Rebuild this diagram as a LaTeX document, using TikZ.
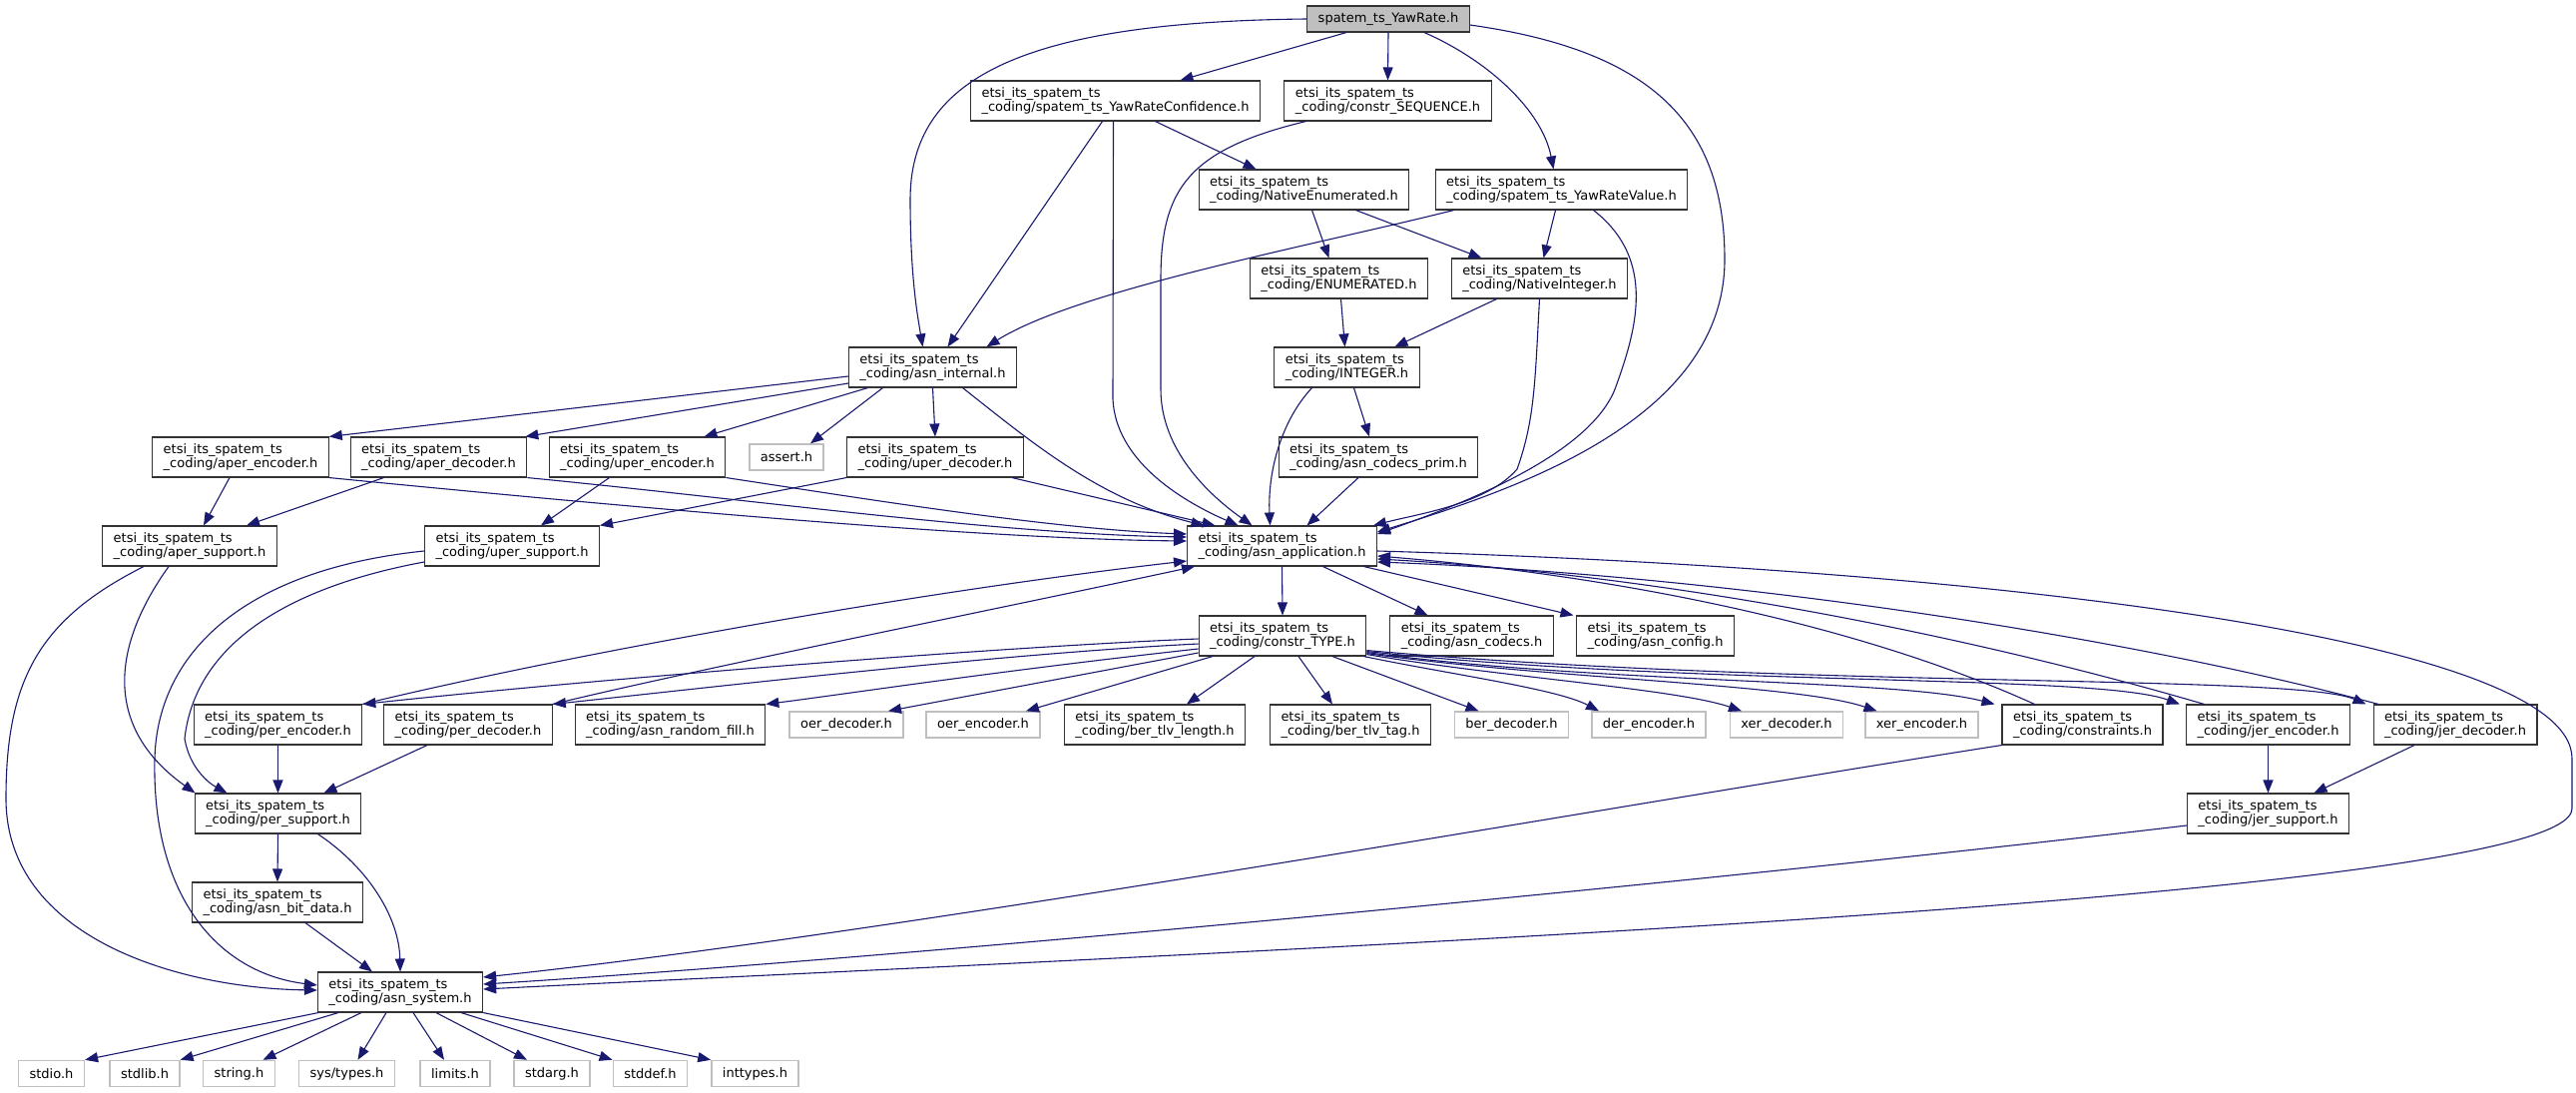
\documentclass[tikz,border=0pt]{standalone}
\usepackage{fontspec}
\newfontfamily\dotfont{DejaVu Sans}
\usetikzlibrary{arrows.meta}
\definecolor{edgeblue}{RGB}{25,25,112}
\definecolor{boxgray}{RGB}{191,191,191}
\newcommand{\etsipath}{etsi\_its\_spatem\_ts\\\_coding/}

\begin{document}
\begin{tikzpicture}[
    x=1pt, y=-1pt,
    file/.style={draw=black!80, fill=white, line width=1.1pt,
        font=\dotfont\fontsize{13pt}{14.5pt}\selectfont,
        align=left, inner xsep=11pt, inner ysep=0pt, minimum height=40pt},
    main/.style={file, fill=boxgray, minimum height=26pt},
    sysfile/.style={draw=boxgray, line width=1.4pt,
        font=\dotfont\fontsize{13pt}{14.5pt}\selectfont,
        inner xsep=11pt, inner ysep=0pt, minimum height=26pt},
    dep/.style={draw=edgeblue, line width=1.1pt, -{Triangle[length=13pt, width=10pt]}},
]
    \path[use as bounding box, fill=white] (0, 0) rectangle (2581, 1095);

    \node[main] (yawrate) at (1391, 19) {spatem\_ts\_YawRate.h};
    \node[file] (yawconf) at (1117.5, 101) {\etsipath spatem\_ts\_YawRateConfidence.h};
    \node[file] (seqh) at (1390.5, 101) {\etsipath constr\_SEQUENCE.h};
    \node[file] (nenum) at (1306.5, 190) {\etsipath NativeEnumerated.h};
    \node[file] (yawval) at (1564.5, 190) {\etsipath spatem\_ts\_YawRateValue.h};
    \node[file] (enumh) at (1341.5, 279) {\etsipath ENUMERATED.h};
    \node[file] (nint) at (1542.5, 279) {\etsipath NativeInteger.h};
    \node[file] (internal) at (934.5, 368) {\etsipath asn\_internal.h};
    \node[file] (integer) at (1349.5, 368) {\etsipath INTEGER.h};
    \node[file] (aperenc) at (241, 458) {\etsipath aper\_encoder.h};
    \node[file] (aperdec) at (439.5, 458) {\etsipath aper\_decoder.h};
    \node[file] (uperenc) at (638.5, 458) {\etsipath uper\_encoder.h};
    \node[sysfile] (asserth) at (788, 458) {assert.h};
    \node[file] (uperdec) at (937, 458) {\etsipath uper\_decoder.h};
    \node[file] (prim) at (1381, 458) {\etsipath asn\_codecs\_prim.h};
    \node[file] (apersup) at (190, 547) {\etsipath aper\_support.h};
    \node[file] (upersup) at (513, 547) {\etsipath uper\_support.h};
    \node[file] (app) at (1284.5, 547) {\etsipath asn\_application.h};
    \node[file] (ctype) at (1285, 637) {\etsipath constr\_TYPE.h};
    \node[file] (codecs) at (1474.5, 637) {\etsipath asn\_codecs.h};
    \node[file] (config) at (1658.5, 637) {\etsipath asn\_config.h};
    \node[file] (perenc) at (278.5, 726) {\etsipath per\_encoder.h};
    \node[file] (perdec) at (469, 726) {\etsipath per\_decoder.h};
    \node[file] (rfill) at (671.5, 726) {\etsipath asn\_random\_fill.h};
    \node[sysfile] (oerdec) at (848, 726) {oer\_decoder.h};
    \node[sysfile] (oerenc) at (985, 726) {oer\_encoder.h};
    \node[file] (tlvlen) at (1157, 726) {\etsipath ber\_tlv\_length.h};
    \node[file] (tlvtag) at (1353, 726) {\etsipath ber\_tlv\_tag.h};
    \node[sysfile] (berdec) at (1514.5, 726) {ber\_decoder.h};
    \node[sysfile] (derenc) at (1652, 726) {der\_encoder.h};
    \node[sysfile] (xerdec) at (1790, 726) {xer\_decoder.h};
    \node[sysfile] (xerenc) at (1925.5, 726) {xer\_encoder.h};
    \node[file] (constr) at (2086.5, 726) {\etsipath constraints.h};
    \node[file] (jerenc) at (2272.5, 726) {\etsipath jer\_encoder.h};
    \node[file] (jerdec) at (2460, 726) {\etsipath jer\_decoder.h};
    \node[file] (persup) at (278.5, 815) {\etsipath per\_support.h};
    \node[file] (jersup) at (2272.5, 815) {\etsipath jer\_support.h};
    \node[file] (bitdata) at (278, 904) {\etsipath asn\_bit\_data.h};
    \node[file] (system) at (401, 994) {\etsipath asn\_system.h};
    \node[sysfile] (stdio) at (51.5, 1075.5) {stdio.h};
    \node[sysfile] (stdlib) at (145, 1075.5) {stdlib.h};
    \node[sysfile] (stringh) at (239.5, 1075.5) {string.h};
    \node[sysfile] (systypes) at (347.5, 1075.5) {sys/types.h};
    \node[sysfile] (limitsh) at (456, 1075.5) {limits.h};
    \node[sysfile] (stdarg) at (553, 1075.5) {stdarg.h};
    \node[sysfile] (stddef) at (651.5, 1075.5) {stddef.h};
    \node[sysfile] (inttypes) at (756.5, 1075.5) {inttypes.h};

    \path[dep]
        (yawrate.west) .. controls (1020, 22) and (912, 80) .. (912, 200)
        .. controls (912, 280) and (920, 320) .. ([xshift=-10pt]internal.north)
    ;
    \draw[dep] ([xshift=-42pt]yawrate.south) -- ([xshift=65pt]yawconf.north);
    \draw[dep] (yawrate.south) -- (seqh.north);
    \draw[dep] ([xshift=36pt]yawrate.south) .. controls (1490, 60) and (1545, 110) .. ([xshift=-8pt]yawval.north);
    \path[dep]
        ([yshift=-6pt]yawrate.east) .. controls (1650, 50) and (1728, 120) .. (1728, 260)
        .. controls (1728, 420) and (1520, 490) .. ([yshift=14pt]app.east)
    ;

    \draw[dep] ([xshift=-13pt]yawconf.south) -- ([xshift=15pt]internal.north);
    \path[dep]
        ([xshift=-2pt]yawconf.south) -- (1115, 400)
        .. controls (1118, 460) and (1180, 500) .. ([xshift=-44pt]app.north)
    ;
    \draw[dep] ([xshift=40pt]yawconf.south) -- ([xshift=-48pt]nenum.north);
    \path[dep]
        ([xshift=-82pt]seqh.south) .. controls (1190, 150) and (1163, 190) .. (1163, 280)
        -- (1163, 390) .. controls (1163, 450) and (1210, 495) .. ([xshift=-30pt]app.north)
    ;

    \draw[dep] ([xshift=8pt]nenum.south) -- ([xshift=-10pt]enumh.north);
    \draw[dep] ([xshift=52pt]nenum.south) -- ([xshift=-58pt]nint.north);
    \draw[dep] ([xshift=-108pt]yawval.south) .. controls (1320, 245) and (1080, 290) .. ([xshift=54pt]internal.north);
    \draw[dep] ([xshift=-6pt]yawval.south) -- ([xshift=4pt]nint.north);
    \path[dep]
        ([xshift=32pt]yawval.south) .. controls (1660, 260) and (1640, 330) .. (1618, 390)
        .. controls (1590, 460) and (1450, 510) .. ([yshift=12pt]app.east)
    ;
    \draw[dep] ([xshift=2pt]enumh.south) -- ([xshift=-2pt]integer.north);
    \draw[dep] ([xshift=-43pt]nint.south) -- ([xshift=48pt]integer.north);
    \path[dep]
        (nint.south) .. controls (1538, 380) and (1538, 420) .. (1520, 470)
        .. controls (1490, 505) and (1420, 515) .. ([xshift=-4pt]app.north east)
    ;
    \draw[dep] ([xshift=-35pt]integer.south) .. controls (1285, 420) and (1270, 470) .. ([xshift=-12pt]app.north);
    \draw[dep] ([xshift=7pt]integer.south) -- ([xshift=-9pt]prim.north);
    \draw[dep] ([xshift=-20pt]prim.south) -- ([xshift=25pt]app.north);

    \draw[dep] ([yshift=-9pt]internal.west) -- (aperenc.north east);
    \draw[dep] ([yshift=-16pt]internal.west) -- ([xshift=-2pt]aperdec.north east);
    \draw[dep] ([xshift=-65pt]internal.south) -- ([xshift=67pt]uperenc.north);
    \draw[dep] ([xshift=-50pt]internal.south) -- ([xshift=24pt]asserth.north);
    \draw[dep] (internal.south) -- (uperdec.north);
    \draw[dep] ([xshift=30pt]internal.south) .. controls (1030, 440) and (1100, 500) .. ([xshift=-78pt]app.north);

    \draw[dep] ([xshift=-11pt]aperenc.south) -- ([xshift=14pt]apersup.north);
    \draw[dep] (aperenc.south east) .. controls (700, 515) and (1000, 540) .. ([yshift=5pt]app.west);
    \draw[dep] ([xshift=-55pt]aperdec.south) -- ([xshift=57pt]apersup.north);
    \draw[dep] (aperdec.south east) .. controls (750, 500) and (1000, 535) .. ([yshift=9pt]app.west);
    \draw[dep] ([xshift=-28pt]uperenc.south) -- ([xshift=29pt]upersup.north);
    \draw[dep] (uperenc.south east) .. controls (850, 497) and (1050, 530) .. ([yshift=12pt]app.west);
    \draw[dep] (uperdec.south west) -- (upersup.north east);
    \draw[dep] ([xshift=77pt]uperdec.south) -- ([xshift=-67pt]app.north);

    \draw[dep] ([xshift=-21pt]apersup.south) .. controls (110, 650) and (105, 730) .. ([xshift=-83pt]persup.north);
    \path[dep]
        ([xshift=-46pt]apersup.south) .. controls (40, 620) and (6, 680) .. (6, 800)
        .. controls (6, 940) and (180, 990) .. ([yshift=2pt]system.west)
    ;
    \path[dep]
        ([yshift=-5pt]upersup.west) .. controls (250, 570) and (158, 650) .. (155, 760)
        .. controls (152, 900) and (220, 975) .. ([yshift=7pt]system.west)
    ;
    \path[dep]
        ([yshift=-16pt]upersup.west) .. controls (280, 590) and (195, 650) .. (185, 740)
        .. controls (190, 770) and (210, 785) .. ([xshift=-51pt]persup.north)
    ;

    \draw[dep] (perenc.south) -- (persup.north);
    \draw[dep] ([xshift=-41pt]perdec.south) -- ([xshift=46pt]persup.north);
    \draw[dep] (perenc.north east) .. controls (550, 660) and (900, 595) .. ([yshift=-15pt]app.west);
    \draw[dep] (perdec.north east) .. controls (700, 670) and (1000, 610) .. ([xshift=8pt]app.south west);
    \draw[dep] (persup.south) -- (bitdata.north);
    \draw[dep] ([xshift=40pt]persup.south) .. controls (370, 870) and (400, 920) .. (system.north);
    \draw[dep] ([xshift=28pt]bitdata.south) -- ([xshift=-28pt]system.north);

    \draw[dep] ([xshift=-82pt]system.south) -- (stdio.north east);
    \draw[dep] ([xshift=-62pt]system.south) -- (stdlib.north east);
    \draw[dep] ([xshift=-39pt]system.south) -- ([xshift=24pt]stringh.north);
    \draw[dep] ([xshift=-14pt]system.south) -- ([xshift=11pt]systypes.north);
    \draw[dep] ([xshift=13pt]system.south) -- ([xshift=-11pt]limitsh.north);
    \draw[dep] ([xshift=36pt]system.south) -- ([xshift=-25pt]stdarg.north);
    \draw[dep] ([xshift=61pt]system.south) -- (stddef.north west);
    \draw[dep] (system.south east) -- (inttypes.north west);

    \draw[dep] (app.south) -- (ctype.north);
    \draw[dep] ([xshift=41pt]app.south) -- ([xshift=-44pt]codecs.north);
    \draw[dep] ([xshift=82pt]app.south) -- ([xshift=-82pt]config.north);
    \path[dep]
        ([yshift=-5pt]app.east) .. controls (2000, 570) and (2577, 640) .. (2577, 760)
        -- (2577, 810) .. controls (2577, 900) and (1300, 950) .. ([yshift=3pt]system.east)
    ;

    \draw[dep] ([yshift=-3pt]ctype.west) .. controls (1000, 648) and (600, 680) .. (perenc.north east);
    \draw[dep] ([yshift=-8pt]ctype.west) .. controls (1000, 655) and (700, 690) .. (perdec.north east);
    \draw[dep] ([yshift=-13pt]ctype.west) .. controls (1000, 672) and (850, 695) .. (rfill.north east);
    \draw[dep] ([yshift=-17pt]ctype.west) -- ([xshift=42pt]oerdec.north);
    \draw[dep] ([xshift=-70pt]ctype.south) -- ([xshift=43pt]oerenc.north);
    \draw[dep] ([xshift=-28pt]ctype.south) -- ([xshift=32pt]tlvlen.north);
    \draw[dep] ([xshift=16pt]ctype.south) -- ([xshift=-18pt]tlvtag.north);
    \draw[dep] ([xshift=50pt]ctype.south) -- ([xshift=-33pt]berdec.north);
    \draw[dep] ([xshift=-3pt]ctype.south east) .. controls (1450, 675) and (1560, 690) .. ([xshift=-50pt]derenc.north);
    \draw[dep] ([yshift=2pt]ctype.south east) .. controls (1500, 678) and (1680, 690) .. ([xshift=-45pt]xerdec.north);
    \draw[dep] ([yshift=3pt]ctype.south east) .. controls (1550, 680) and (1800, 685) .. ([xshift=-45pt]xerenc.north);
    \draw[dep] ([yshift=4pt]ctype.south east) .. controls (1600, 685) and (1900, 680) .. ([xshift=-7pt]constr.north west);
    \draw[dep] ([yshift=5pt]ctype.south east) .. controls (1700, 688) and (2100, 675) .. ([xshift=-6pt]jerenc.north west);
    \draw[dep] ([yshift=6pt]ctype.south east) .. controls (1800, 690) and (2300, 675) .. ([xshift=-7pt]jerdec.north west);

    \draw[dep] ([xshift=-48pt]constr.north) .. controls (1850, 620) and (1600, 575) .. ([yshift=-10pt]app.east);
    \draw[dep] ([xshift=-64pt]jerenc.north) .. controls (1950, 630) and (1650, 575) .. ([yshift=-13pt]app.east);
    \draw[dep] ([xshift=-77pt]jerdec.north) .. controls (2100, 630) and (1700, 575) .. ([yshift=-16pt]app.east);
    \draw[dep] (constr.south west) .. controls (1600, 810) and (900, 935) .. ([yshift=15pt]system.east);
    \draw[dep] (jerenc.south) -- (jersup.north);
    \draw[dep] ([xshift=-41pt]jerdec.south) -- ([xshift=46pt]jersup.north);
    \draw[dep] ([yshift=-12pt]jersup.west) .. controls (1700, 885) and (900, 960) .. ([yshift=8pt]system.east);
\end{tikzpicture}
\end{document}
